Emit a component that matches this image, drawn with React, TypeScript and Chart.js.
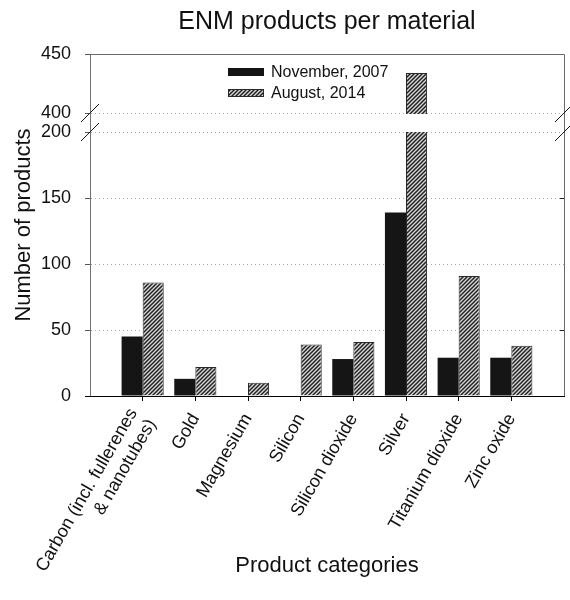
import React, { useEffect, useRef } from 'react';
import { Chart, registerables, LinearScale } from 'chart.js';

Chart.register(...registerables);

// ---------- data ----------
const categories: (string | string[])[] = [
  ['Carbon (incl. fullerenes', '& nanotubes)'],
  'Gold',
  'Magnesium',
  'Silicon',
  'Silicon dioxide',
  'Silver',
  'Titanium dioxide',
  'Zinc oxide',
];
const nov2007 = [45, 13, 0, 0, 28, 139, 29, 29];
const aug2014 = [86, 22, 10, 39, 41, 434, 91, 38];
const seriesLabels = ['November, 2007', 'August, 2014'];
const yTickValues = [0, 50, 100, 150, 200, 400, 450];
const rightTickValues = [50, 150];

const Y_MIN = 0;
const Y_MAX = 450;
const BREAK_LOW = 200;
const BREAK_HIGH = 400;
// share of the axis height used by the lower segment and by the gap
const LOWER_FRAC = 264 / 342;
const GAP_FRAC = 19 / 342;

const FONT = "'Liberation Sans', Arial, Helvetica, sans-serif";

// ---------- broken linear scale ----------
class BrokenLinearScale extends (LinearScale as any) {
  static id = 'brokenLinear';
  getPixelForValue(value: any) {
    if (value === null || value === undefined || isNaN(value)) return NaN;
    const top = this.top;
    const bottom = this.bottom;
    const h = bottom - top;
    const lowH = h * LOWER_FRAC;
    const gapH = h * GAP_FRAC;
    const upH = h - lowH - gapH;
    const min = this.min;
    const max = this.max;
    if (value <= BREAK_LOW) return bottom - ((value - min) / (BREAK_LOW - min)) * lowH;
    if (value >= BREAK_HIGH) return bottom - lowH - gapH - ((value - BREAK_HIGH) / (max - BREAK_HIGH)) * upH;
    return bottom - lowH - ((value - BREAK_LOW) / (BREAK_HIGH - BREAK_LOW)) * gapH;
  }
  getValueForPixel(pixel: number) {
    const top = this.top;
    const bottom = this.bottom;
    const h = bottom - top;
    const lowH = h * LOWER_FRAC;
    const gapH = h * GAP_FRAC;
    const upH = h - lowH - gapH;
    const d = bottom - pixel;
    if (d <= lowH) return this.min + (d / lowH) * (BREAK_LOW - this.min);
    if (d >= lowH + gapH) return BREAK_HIGH + ((d - lowH - gapH) / upH) * (this.max - BREAK_HIGH);
    return BREAK_LOW + ((d - lowH) / gapH) * (BREAK_HIGH - BREAK_LOW);
  }
}
Chart.register(BrokenLinearScale as any);

function makeHatch(): CanvasPattern | string {
  const c = document.createElement('canvas');
  c.width = 4;
  c.height = 4;
  const g = c.getContext('2d');
  if (!g) return '#999';
  g.fillStyle = '#d6d6d6';
  g.fillRect(0, 0, 4, 4);
  g.strokeStyle = '#222222';
  g.lineWidth = 1.45;
  g.beginPath();
  g.moveTo(-1, 5);
  g.lineTo(5, -1);
  g.moveTo(-1, 1);
  g.lineTo(1, -1);
  g.moveTo(3, 5);
  g.lineTo(5, 3);
  g.stroke();
  return g.createPattern(c, 'repeat') || '#999';
}

const decorPlugin = {
  id: 'brokenDecor',
  beforeDraw(chart: any) {
    // centre multi-line category labels on their tick
    const xs = chart.scales.x;
    if (!xs || !xs.getLabelItems) return;
    const items = xs.getLabelItems(chart.chartArea);
    items.forEach((it: any) => {
      if (Array.isArray(it.label) && it.label.length > 1 && !it.__centred) {
        it.textOffset -= ((it.label.length - 1) * it.font.lineHeight) / 2;
        it.__centred = true;
      }
    });
  },
  afterDatasetsDraw(chart: any) {
    const { ctx, chartArea, scales } = chart;
    const { left, right, top, bottom } = chartArea;
    const y = scales.y;
    const yHigh = y.getPixelForValue(BREAK_HIGH);
    const yLow = y.getPixelForValue(BREAK_LOW);
    ctx.save();
    // gap band
    ctx.fillStyle = '#ffffff';
    ctx.fillRect(left + 1, Math.round(yHigh) + 1, right - left - 1, Math.round(yLow) - Math.round(yHigh) - 1);
    // top & right frame
    ctx.strokeStyle = '#6a6a6a';
    ctx.lineWidth = 1;
    ctx.beginPath();
    ctx.moveTo(left, Math.round(top) + 0.5);
    ctx.lineTo(Math.round(right) + 0.5, Math.round(top) + 0.5);
    ctx.lineTo(Math.round(right) + 0.5, bottom);
    ctx.stroke();
    // right inner ticks
    ctx.strokeStyle = '#222';
    ctx.beginPath();
    rightTickValues.forEach((v) => {
      const py = Math.round(y.getPixelForValue(v)) + 0.5;
      ctx.moveTo(right - 4, py);
      ctx.lineTo(right, py);
    });
    ctx.stroke();
    // break slashes
    ctx.strokeStyle = '#1a1a1a';
    ctx.lineWidth = 1;
    ctx.beginPath();
    [left, right].forEach((x) => {
      [yHigh, yLow].forEach((yy) => {
        ctx.moveTo(x - 9, yy + 9);
        ctx.lineTo(x + 9, yy - 9);
      });
    });
    ctx.stroke();
    ctx.restore();
  },
  afterDraw(chart: any) {
    const { ctx, chartArea } = chart;
    const x0 = chartArea.left + 138;
    const rows = [chartArea.top + 18, chartArea.top + 39];
    ctx.save();
    ctx.font = `16px ${FONT}`;
    ctx.textBaseline = 'middle';
    ctx.textAlign = 'left';
    chart.data.datasets.forEach((ds: any, i: number) => {
      const cy = rows[i];
      ctx.fillStyle = ds.backgroundColor;
      ctx.fillRect(x0, cy - 4, 36, 8);
      if (ds.borderWidth) {
        ctx.strokeStyle = ds.borderColor;
        ctx.lineWidth = 1;
        ctx.strokeRect(x0 + 0.5, cy - 4 + 0.5, 35, 7);
      }
      ctx.fillStyle = '#111';
      ctx.fillText(ds.label, x0 + 43, cy + 1);
    });
    ctx.restore();
  },
};

export default function App() {
  const ref = useRef<HTMLCanvasElement | null>(null);

  useEffect(() => {
    if (!ref.current) return;
    const hatch = makeHatch();
    const chart = new Chart(ref.current, {
      type: 'bar',
      data: {
        datasets: [
          {
            label: seriesLabels[0],
            data: nov2007.map((v, i) => ({ x: i, y: v })),
            backgroundColor: '#151515',
            borderWidth: 0,
            categoryPercentage: 0.8,
            barPercentage: 1.0,
          },
          {
            label: seriesLabels[1],
            data: aug2014.map((v, i) => ({ x: i, y: v })),
            backgroundColor: hatch as any,
            borderColor: '#2a2a2a',
            borderWidth: 1,
            categoryPercentage: 0.8,
            barPercentage: 1.0,
          },
        ] as any,
      },
      options: {
        responsive: false,
        maintainAspectRatio: false,
        animation: false,
        devicePixelRatio: 1,
        layout: { padding: { top: 0, right: 6, bottom: 0, left: 0 } },
        plugins: {
          legend: { display: false },
          tooltip: { enabled: false },
          title: {
            display: true,
            text: 'ENM products per material',
            fullSize: false,
            color: '#111',
            font: { family: FONT, size: 25, weight: 'normal' },
            padding: { top: 7, bottom: 17 },
          },
        },
        scales: {
          x: {
            type: 'linear',
            min: -1,
            max: 8,
            offset: false,
            afterBuildTicks: (s: any) => {
              s.ticks = categories.map((_, i) => ({ value: i }));
            },
            afterFit: (s: any) => {
              s.height = 204;
              s.paddingLeft = 0;
              s.paddingRight = 0;
            },
            ticks: {
              autoSkip: false,
              minRotation: 60,
              maxRotation: 60,
              padding: 9,
              color: '#111',
              font: { family: FONT, size: 18 },
              callback: (v: any) => categories[v as number] as any,
            },
            grid: {
              offset: false,
              drawOnChartArea: false,
              drawTicks: true,
              tickLength: 5,
              tickColor: '#000',
              tickWidth: 1,
            },
            border: { color: '#000', width: 1, z: 1 },
            title: {
              display: true,
              text: 'Product categories',
              color: '#111',
              font: { family: FONT, size: 22 },
              padding: { top: 0, bottom: 21 },
            },
          },
          y: {
            type: 'brokenLinear' as any,
            min: Y_MIN,
            max: Y_MAX,
            afterBuildTicks: (s: any) => {
              s.ticks = yTickValues.map((v) => ({ value: v }));
            },
            afterFit: (s: any) => {
              s.width = 90;
            },
            ticks: {
              autoSkip: false,
              padding: 14,
              color: '#111',
              font: { family: FONT, size: 18 },
              callback: (v: any) => String(v),
            },
            grid: {
              color: '#a8a8a8',
              lineWidth: 1,
              tickLength: 5,
              tickColor: (c: any) => (c.tick && c.tick.value === 0 ? '#000' : '#555'),
              tickWidth: 1,
            },
            border: { color: '#707070', width: 1, dash: [1, 3] },
            title: {
              display: true,
              text: 'Number of products',
              color: '#111',
              font: { family: FONT, size: 22 },
              padding: { top: 11, bottom: 0 },
            },
          } as any,
        },
      } as any,
      plugins: [decorPlugin],
    });
    return () => chart.destroy();
  }, []);

  return (
    <div style={{ position: 'absolute', left: 0, top: 0, width: 570, height: 600, background: '#fff' }}>
      <canvas ref={ref} width={570} height={600} style={{ display: 'block', width: 570, height: 600 }} />
    </div>
  );
}
